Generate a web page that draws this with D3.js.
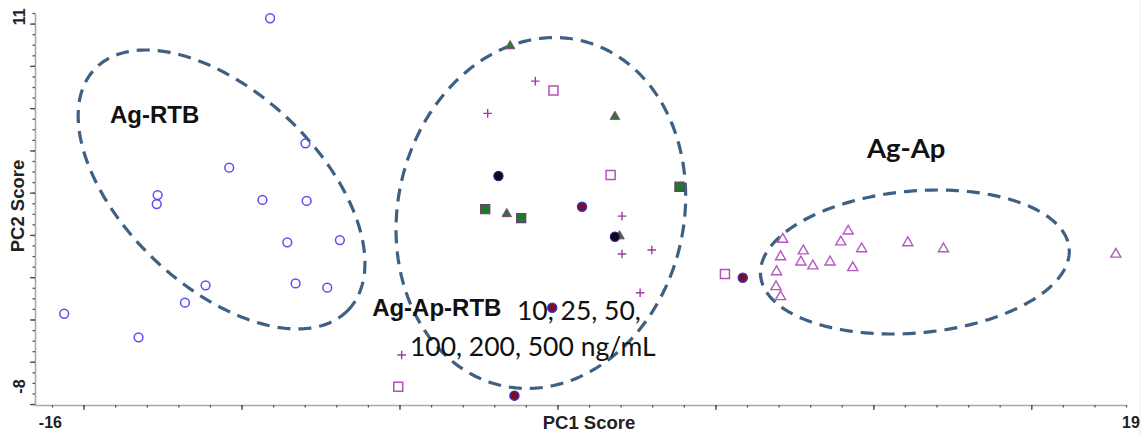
<!DOCTYPE html>
<html>
<head>
<meta charset="utf-8">
<script src="https://cdn.jsdelivr.net/npm/d3@7"></script>
<style>
  html, body { margin: 0; padding: 0; background: #fff; }
  svg { display: block; }
</style>
</head>
<body>
<svg id="chart" width="1147" height="434"></svg>
<script>
// PCA score plot: PC1 vs PC2 scores, one array of [PC1, PC2] per sample group

// Ag-RTB (open blue circles)
const agRtb = [
  [-8.85, 10.93], [-7.70, 4.50], [-10.18, 3.25], [-12.51, 1.84], [-12.54, 1.38],
  [-9.10, 1.59], [-7.66, 1.54], [-8.29, -0.59], [-6.58, -0.47], [-10.95, -2.80],
  [-8.02, -2.70], [-6.99, -2.92], [-11.62, -3.69], [-15.55, -4.26], [-13.13, -5.47]
];

// Ag-Ap (open magenta triangles)
const agAp = [
  [7.83, -0.38], [9.96, 0.04], [9.72, -0.52], [10.40, -0.87], [11.90, -0.56],
  [13.06, -0.87], [18.67, -1.15], [8.50, -0.98], [7.76, -1.28], [8.42, -1.55],
  [8.81, -1.75], [9.37, -1.55], [10.11, -1.84], [7.63, -2.05], [7.61, -2.82],
  [7.76, -3.33]
];

// Ag-Ap-RTB concentration series
const openSquares   = [[0.37, 7.21], [2.23, 2.87], [-4.68, -8.01], [5.95, -2.22]];
const plusMarks     = [[-0.22, 7.70], [-1.77, 6.04], [2.60, 0.76], [2.60, -1.19],
                       [3.57, -0.98], [3.19, -3.18], [-4.57, -6.38]];
const greenTriangles = [[-1.04, 9.55], [2.37, 5.92], [-1.15, 0.92], [2.52, -0.22]];
const greenSquares  = [[-1.85, 1.12], [-0.68, 0.66], [4.47, 2.27]];
const redCircles    = [[1.30, 1.24], [0.33, -3.95], [-0.90, -8.47], [6.53, -2.41]];
const blackCircles  = [[-1.42, 2.82], [2.37, -0.30]];

// Axis end labels
const xEndLabels = [-16, 19];
const yEndLabels = [11, -8];

// Confidence outlines around the three groups: centre in score units,
// semi-axes in PC1 units, rotation in degrees
const groupOutlines = [
  { name: "Ag-RTB",    cx: -10.43, cy: 2.13,  a: 5.69, b: 3.16, rot: 43.5 },
  { name: "Ag-Ap-RTB", cx: -0.04,  cy: 0.92,  a: 4.65, b: 5.76, rot: 13 },
  { name: "Ag-Ap",     cx: 12.13,  cy: -1.60, a: 5.04, b: 2.31, rot: -5 }
];

const svg = d3.select("#chart");

const x = d3.scaleLinear().domain([-16.5, 19]).range([35, 1126]);
const y = d3.scaleLinear().domain([-8.95, 11.2]).range([405, 13]);
const pxPerUnit = x(1) - x(0);

// faint right frame edge
svg.append("line")
  .attr("x1", 1140).attr("x2", 1140).attr("y1", 0).attr("y2", 434)
  .attr("stroke", "#ececec").attr("stroke-width", 1);

// ---------- axes ----------
const xMinor = d3.range(35).map(i => -15.947 + i * 1.0279);
const xMajor = xMinor.filter((d, i) => i % 5 === 1);
const yMinor = d3.range(38).map(i => -8.9 + i * 0.5432);
const yMajor = yMinor.filter((d, i) => i % 4 === 0);

function styleAxis(g, lineColor) {
  g.select(".domain").attr("stroke", lineColor).attr("stroke-width", 1.6);
  g.selectAll(".tick line").attr("stroke", "#555").attr("stroke-width", 1.3);
}

const gx = svg.append("g").attr("transform", `translate(0,${y.range()[0]})`);
gx.call(d3.axisBottom(x).tickValues(xMinor).tickSize(2.5).tickSizeOuter(0).tickFormat(""))
  .call(g => styleAxis(g, "#a8a8a8"));
svg.append("g").attr("transform", `translate(0,${y.range()[0]})`)
  .call(d3.axisBottom(x).tickValues(xMajor).tickSize(5).tickSizeOuter(0).tickFormat(""))
  .call(g => { g.select(".domain").remove(); g.selectAll(".tick line").attr("stroke", "#555").attr("stroke-width", 1.4); });

const gy = svg.append("g").attr("transform", `translate(${x.range()[0]},0)`);
gy.call(d3.axisLeft(y).tickValues(yMinor).tickSize(2.5).tickSizeOuter(0).tickFormat(""))
  .call(g => styleAxis(g, "#a8a8a8"));
svg.append("g").attr("transform", `translate(${x.range()[0]},0)`)
  .call(d3.axisLeft(y).tickValues(yMajor).tickSize(5).tickSizeOuter(0).tickFormat(""))
  .call(g => { g.select(".domain").remove(); g.selectAll(".tick line").attr("stroke", "#555").attr("stroke-width", 1.4); });

const axisFont = "'Liberation Sans', Arial, sans-serif";

svg.selectAll(".xend").data(xEndLabels).enter().append("text")
  .attr("x", (d, i) => x(d) + (i === 1 ? 5 : 0))
  .attr("y", 428)
  .attr("text-anchor", "middle")
  .attr("font-family", axisFont).attr("font-weight", "bold").attr("font-size", 16)
  .attr("fill", "#222")
  .text(d => d);

svg.selectAll(".yend").data(yEndLabels).enter().append("text")
  .attr("transform", d => `translate(25,${y(d)}) rotate(-90)`)
  .attr("text-anchor", "middle")
  .attr("font-family", axisFont).attr("font-weight", "bold").attr("font-size", 16)
  .attr("fill", "#222")
  .text(d => d);

svg.append("text")
  .attr("x", 589).attr("y", 429)
  .attr("text-anchor", "middle")
  .attr("font-family", axisFont).attr("font-weight", "bold").attr("font-size", 18.5)
  .attr("fill", "#222")
  .text("PC1 Score");

svg.append("text")
  .attr("transform", `translate(24,206) rotate(-90)`)
  .attr("text-anchor", "middle")
  .attr("font-family", axisFont).attr("font-weight", "bold").attr("font-size", 18.5)
  .attr("fill", "#222")
  .text("PC2 Score");

// ---------- group outlines ----------
const outlineLine = d3.line().curve(d3.curveLinearClosed);
svg.append("g").selectAll("path").data(groupOutlines).enter().append("path")
  .attr("d", e => {
    const cx = x(e.cx), cy = y(e.cy);
    const a = e.a * pxPerUnit, b = e.b * pxPerUnit;
    const r = e.rot * Math.PI / 180;
    const pts = d3.range(240).map(k => {
      const t = k / 240 * 2 * Math.PI;
      const u = a * Math.cos(t), v = b * Math.sin(t);
      return [cx + u * Math.cos(r) - v * Math.sin(r), cy + u * Math.sin(r) + v * Math.cos(r)];
    });
    return outlineLine(pts);
  })
  .attr("fill", "none")
  .attr("stroke", "#3e6183")
  .attr("stroke-width", 3.2)
  .attr("stroke-dasharray", "13,8");

// ---------- group labels ----------
const labelFont = "'Liberation Sans', Arial, sans-serif";
const calFont = "Lato, 'Open Sans', sans-serif";

svg.append("text").attr("x", x(-14.06)).attr("y", y(5.545))
  .attr("font-family", labelFont).attr("font-weight", "bold").attr("font-size", 24)
  .attr("fill", "#111").text("Ag-RTB");

svg.append("text").attr("x", x(10.57)).attr("y", y(3.746))
  .attr("font-family", calFont).attr("font-weight", "bold").attr("font-size", 27.5)
  .attr("fill", "#111").text("Ag-Ap");

svg.append("text").attr("x", x(-5.53)).attr("y", y(-4.38))
  .attr("font-family", labelFont).attr("font-weight", "bold").attr("font-size", 24)
  .attr("fill", "#111").text("Ag-Ap-RTB");

svg.append("text").attr("x", x(-0.816)).attr("y", y(-4.58))
  .attr("font-family", calFont).attr("font-size", 26.5)
  .attr("fill", "#111").text("10, 25, 50,");

svg.append("text").attr("x", x(-4.30)).attr("y", y(-6.43))
  .attr("font-family", calFont).attr("font-size", 26.5)
  .attr("fill", "#111").text("100, 200, 500 ng/mL");

// ---------- markers ----------
const shapes = {
  circle: s => `M${s},0A${s},${s},0,1,1,${-s},0A${s},${s},0,1,1,${s},0Z`,
  triangle: s => `M0,${-s * 1.05}L${s * 1.1},${s * 0.85}L${-s * 1.1},${s * 0.85}Z`,
  square: s => `M${-s},${-s}H${s}V${s}H${-s}Z`,
  plus: s => `M${-s},0H${s}M0,${-s}V${s}`
};

function drawSeries(data, shape, size, fill, stroke, width) {
  svg.append("g").selectAll("path").data(data).enter().append("path")
    .attr("transform", d => `translate(${x(d[0])},${y(d[1])})`)
    .attr("d", shapes[shape](size))
    .attr("fill", fill)
    .attr("stroke", stroke)
    .attr("stroke-width", width);
}

drawSeries(agRtb, "circle", 4.4, "none", "#5b4ef2", 1.5);
drawSeries(agAp, "triangle", 4.6, "none", "#b458c4", 1.4);
drawSeries(openSquares, "square", 4.5, "#fff", "#b052b6", 1.5);
drawSeries(plusMarks, "plus", 4.3, "none", "#a03aa6", 1.4);
drawSeries(greenTriangles, "triangle", 4.3, "#2b7a2b", "#8c3d8c", 1);
drawSeries(greenSquares, "square", 4.6, "#22782a", "#6a3a6a", 1.1);
drawSeries(redCircles, "circle", 4.6, "#7a1020", "#3d2fd0", 1.3);
drawSeries(blackCircles, "circle", 4.6, "#0b0b14", "#2a2a8a", 1.2);
</script>
</body>
</html>
